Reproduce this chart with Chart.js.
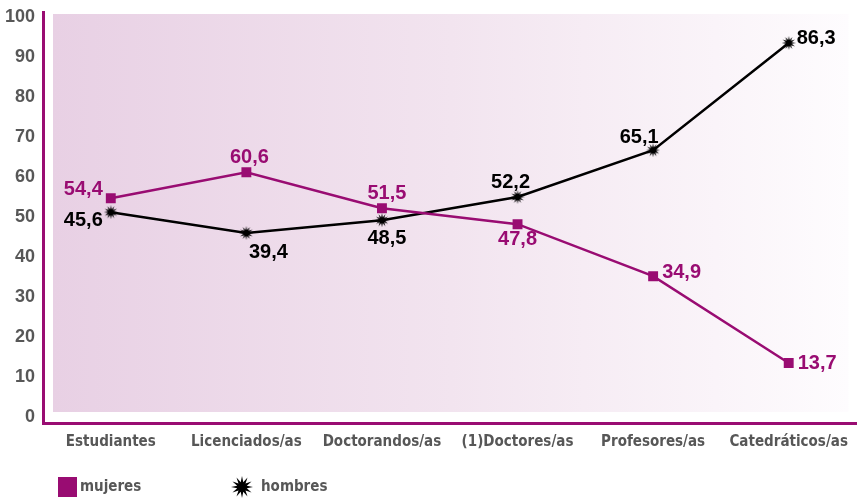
<!DOCTYPE html>
<html>
<head>
<meta charset="utf-8">
<script src="https://cdn.jsdelivr.net/npm/chart.js@4"></script>
<style>
  body { margin: 0; background: #fff; }
  #wrap { width: 866px; height: 498px; }
</style>
</head>
<body>
<div id="wrap"><canvas id="chart"></canvas></div>
<script>
const categories = ['Estudiantes', 'Licenciados/as', 'Doctorandos/as', '(1)Doctores/as', 'Profesores/as', 'Catedráticos/as'];
// plotted positions
const mujeres = [54.7, 61.2, 52.2, 48.2, 35.2, 13.5];
const hombres = [51.2, 46.0, 49.2, 55.0, 66.7, 93.5];
// printed value labels
const mujeresLabels = ['54,4', '60,6', '51,5', '47,8', '34,9', '13,7'];
const hombresLabels = ['45,6', '39,4', '48,5', '52,2', '65,1', '86,3'];
const yTicks = [0, 10, 20, 30, 40, 50, 60, 70, 80, 90, 100];

const MAGENTA = '#990c72';
const GREY = '#575757';
const NARROW = '"DejaVu Sans Condensed", "Liberation Sans Narrow", "Arial Narrow", sans-serif';

// little black "burst" marker
function burst(size, spikes) {
  const c = document.createElement('canvas');
  c.width = c.height = size;
  const g = c.getContext('2d');
  const r = size / 2;
  g.beginPath();
  for (let i = 0; i < spikes * 2; i++) {
    const rad = i % 2 ? r * 0.45 : r;
    const a = Math.PI * i / spikes;
    g.lineTo(r + rad * Math.cos(a), r + rad * Math.sin(a));
  }
  g.closePath();
  g.fillStyle = '#000';
  g.fill();
  return c;
}
const burstSmall = burst(14, 12);
const burstBig = burst(22, 12);

// label placement per point: [dx, dy, align]
const mujeresPos = [[-8, -9, 'right'], [3, -15, 'center'], [5, -15, 'center'], [0, 15, 'center'], [9, -4, 'left'], [9, 0, 'left']];
const hombresPos = [[-8, 8, 'right'], [22, 19, 'center'], [5, 18, 'center'], [-7, -15, 'center'], [-14, -13, 'center'], [8, -5, 'left']];

const bgPlugin = {
  id: 'bg',
  beforeDatasetsDraw(chart) {
    const { ctx, chartArea: a } = chart;
    const x0 = a.left + 10, x1 = a.right - 8, y0 = a.top + 2, y1 = a.bottom - 11;
    const grad = ctx.createLinearGradient(x0, 0, x1, 0);
    grad.addColorStop(0, '#e8d0e4');
    grad.addColorStop(0.5, '#f2e4ef');
    grad.addColorStop(1, '#fefcfe');
    ctx.save();
    ctx.fillStyle = grad;
    ctx.fillRect(x0, y0, x1 - x0, y1 - y0);
    ctx.restore();
  }
};

const labelPlugin = {
  id: 'valueLabels',
  afterDatasetsDraw(chart) {
    const { ctx } = chart;
    ctx.save();
    ctx.font = 'bold 20px "Liberation Sans", Arial, sans-serif';
    ctx.textBaseline = 'middle';
    chart.data.datasets.forEach((ds, di) => {
      const meta = chart.getDatasetMeta(di);
      meta.data.forEach((pt, i) => {
        const p = ds.labelPos[i];
        ctx.fillStyle = ds.labelColor;
        ctx.textAlign = p[2];
        ctx.fillText(ds.valueLabels[i], pt.x + p[0], pt.y + p[1]);
      });
    });
    ctx.restore();
  }
};

const legendPlugin = {
  id: 'customLegend',
  afterDraw(chart) {
    const { ctx } = chart;
    const y = 487;
    ctx.save();
    ctx.font = 'bold 15px ' + NARROW;
    ctx.textBaseline = 'middle';
    ctx.textAlign = 'left';
    // mujeres
    ctx.fillStyle = MAGENTA;
    ctx.fillRect(58, y - 10, 19, 20);
    ctx.fillStyle = GREY;
    ctx.fillText(chart.data.datasets[0].label, 80, y);
    // hombres
    ctx.drawImage(burstBig, 242 - 11, y - 11);
    ctx.fillStyle = GREY;
    ctx.fillText(chart.data.datasets[1].label, 261, y);
    ctx.restore();
  }
};

new Chart(document.getElementById('chart'), {
  type: 'line',
  data: {
    labels: categories,
    datasets: [
      {
        label: 'mujeres',
        data: mujeres,
        valueLabels: mujeresLabels,
        labelPos: mujeresPos,
        labelColor: MAGENTA,
        borderColor: MAGENTA,
        backgroundColor: MAGENTA,
        borderWidth: 2.5,
        pointStyle: 'rect',
        pointRadius: 7,
        pointBorderWidth: 0,
        tension: 0
      },
      {
        label: 'hombres',
        data: hombres,
        valueLabels: hombresLabels,
        labelPos: hombresPos,
        labelColor: '#000',
        borderColor: '#000',
        backgroundColor: '#000',
        borderWidth: 2.5,
        pointStyle: burstSmall,
        pointRadius: 7,
        tension: 0
      }
    ]
  },
  options: {
    responsive: true,
    maintainAspectRatio: false,
    animation: false,
    layout: { padding: { top: 12, right: 3, left: 0, bottom: 0 } },
    plugins: {
      legend: { display: false },
      tooltip: { enabled: false }
    },
    scales: {
      x: {
        offset: true,
        grid: { display: false, drawTicks: false },
        border: { display: true, color: MAGENTA, width: 3 },
        ticks: {
          color: GREY,
          padding: 10,
          maxRotation: 0,
          autoSkip: false,
          font: { family: NARROW, weight: 'bold', size: 15 }
        },
        afterFit(scale) { scale.height = 75; scale.paddingLeft = 0; scale.paddingRight = 0; }
      },
      y: {
        min: -1.5,
        max: 101.25,
        grid: { display: false, drawTicks: false },
        border: { display: true, color: MAGENTA, width: 3 },
        afterBuildTicks(scale) { scale.ticks = yTicks.map(v => ({ value: v })); },
        ticks: {
          color: GREY,
          padding: 8,
          font: { family: '"Liberation Sans", Arial, sans-serif', weight: 'bold', size: 18 }
        },
        afterFit(scale) { scale.width = 43; scale.paddingTop = 0; scale.paddingBottom = 0; }
      }
    }
  },
  plugins: [bgPlugin, labelPlugin, legendPlugin]
});
</script>
</body>
</html>
